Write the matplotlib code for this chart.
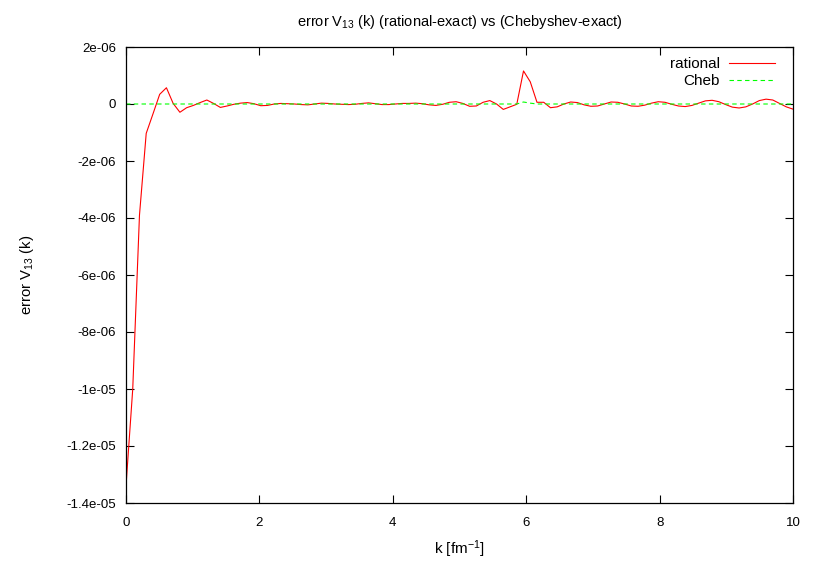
import numpy as np
import matplotlib
matplotlib.use('Agg')
import matplotlib.pyplot as plt
from matplotlib.ticker import FixedLocator, FixedFormatter

plt.rcParams['font.family'] = ['Liberation Sans', 'DejaVu Sans']
plt.rcParams['mathtext.fontset'] = 'custom'
plt.rcParams['mathtext.rm'] = 'Liberation Sans'
plt.rcParams['mathtext.it'] = 'Liberation Sans'
plt.rcParams['font.size'] = 9.5

# 100 samples of k on [0, 10] (gnuplot default sampling)
k = np.linspace(0, 10, 100)

# error in units of 1e-6
rational = [
    -13.4, -10.0, -3.9, -1.03, -0.35, 0.34, 0.57, 0.02, -0.29, -0.13,
    -0.05, 0.05, 0.14, 0.02, -0.12, -0.07, -0.01, 0.03, 0.05, 0.01,
    -0.06, -0.05, 0.0, 0.02, 0.01, 0.0, -0.02, -0.03, 0.0, 0.03,
    0.02, 0.0, -0.01, -0.02, -0.01, 0.02, 0.04, 0.01, -0.02, -0.02,
    0.0, 0.02, 0.02, 0.03, 0.01, -0.03, -0.05, -0.01, 0.06, 0.08,
    0.02, -0.08, -0.07, 0.06, 0.12, 0.0, -0.19, -0.1, -0.01, 1.16,
    0.78, 0.06, 0.06, -0.13, -0.1, 0.0, 0.07, 0.05, -0.03, -0.08,
    -0.07, 0.0, 0.07, 0.06, 0.0, -0.07, -0.08, -0.04, 0.03, 0.08,
    0.06, -0.01, -0.07, -0.09, -0.05, 0.03, 0.11, 0.13, 0.08, -0.02,
    -0.11, -0.14, -0.1, 0.0, 0.12, 0.17, 0.14, 0.02, -0.1, -0.18,
]
cheb = [0.0] * 100
cheb[59] = 0.07
cheb[60] = 0.03

rational = np.array(rational) * 1e-6
cheb = np.array(cheb) * 1e-6

yticks = [2e-6, 0, -2e-6, -4e-6, -6e-6, -8e-6, -1e-5, -1.2e-5, -1.4e-5]
ytick_labels = ['2e-06', '0', '-2e-06', '-4e-06', '-6e-06', '-8e-06',
                '-1e-05', '-1.2e-05', '-1.4e-05']
xticks = [0, 2, 4, 6, 8, 10]

fig = plt.figure(figsize=(8.17, 5.72), dpi=100)
ax = fig.add_axes([126 / 817, 1 - 503 / 572, 667 / 817, 456 / 572])

ax.plot(k, rational, color='#ff0000', lw=0.8, label='rational')
ax.plot(k, cheb, color='#00ff00', lw=0.8, dashes=(4, 3), label='Cheb')

ax.set_xlim(0, 10)
ax.set_ylim(-1.4e-5, 2e-6)
ax.xaxis.set_major_locator(FixedLocator(xticks))
ax.yaxis.set_major_locator(FixedLocator(yticks))
ax.yaxis.set_major_formatter(FixedFormatter(ytick_labels))
ax.tick_params(direction='in', length=6, width=0.8, top=True, right=True,
               labelsize=9.5, pad=7)
ax.tick_params(axis='x', pad=10)
for s in ax.spines.values():
    s.set_linewidth(0.9)

ax.set_title('error V$_{13}$ (k) (rational-exact) vs (Chebyshev-exact)',
             fontsize=10.5, pad=15)
ax.set_xlabel('k [fm$^{-1}$]', fontsize=11, labelpad=7)
ax.set_ylabel('error V$_{13}$ (k)', fontsize=10.7, labelpad=22)

ax.legend(loc='upper right', frameon=False, markerfirst=False,
          handlelength=3.0, fontsize=11, borderaxespad=0, borderpad=0,
          labelspacing=0.2, handletextpad=0.6,
          bbox_to_anchor=(775 / 817, 1 - 57 / 572),
          bbox_transform=fig.transFigure)

fig.savefig('out.png', dpi=100)
